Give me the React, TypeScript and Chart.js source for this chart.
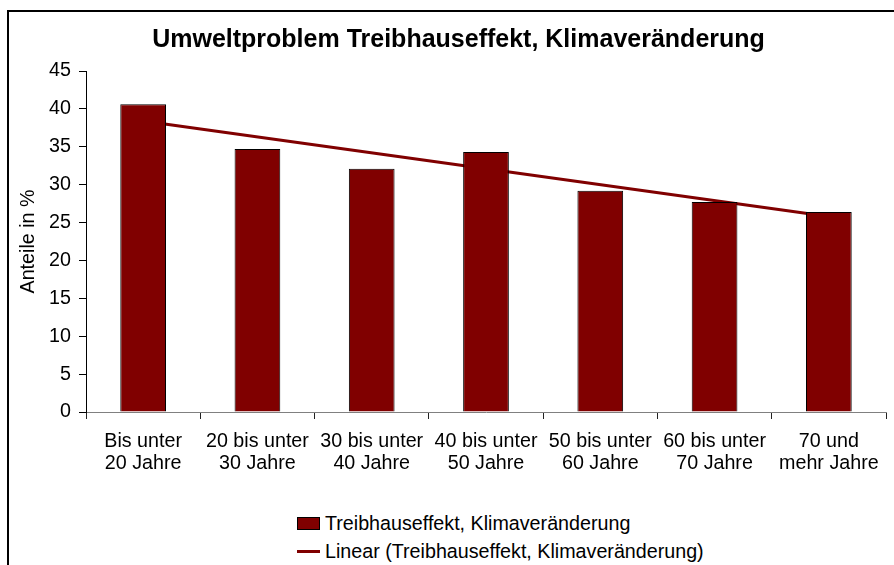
import React, { useEffect, useRef } from "react";
import { Chart, registerables } from "chart.js";

Chart.register(...registerables);

const categories: string[][] = [
  ["Bis unter", "20 Jahre"],
  ["20 bis unter", "30 Jahre"],
  ["30 bis unter", "40 Jahre"],
  ["40 bis unter", "50 Jahre"],
  ["50 bis unter", "60 Jahre"],
  ["60 bis unter", "70 Jahre"],
  ["70 und", "mehr Jahre"],
];
const values: number[] = [40.6, 34.7, 32.1, 34.3, 29.2, 27.7, 26.4];
// linear trend line read at the first and last category
const trendValues: (number | null)[] = [38.4, null, null, null, null, null, 25.8];

const seriesLabel = "Treibhauseffekt, Klimaveränderung";
const trendLabel = "Linear (Treibhauseffekt, Klimaveränderung)";
const chartTitle = "Umweltproblem Treibhauseffekt, Klimaveränderung";
const yTitle = "Anteile in %";
const yMin = 0;
const yMax = 45;
const yStep = 5;

const RED = "#800000";
const FONT = "'Liberation Sans', Arial, sans-serif";
const FS = 19.7;

export default function App() {
  const ref = useRef<HTMLCanvasElement | null>(null);

  useEffect(() => {
    if (!ref.current) return;
    const chart = new Chart(ref.current, {
      type: "bar",
      data: {
        labels: categories,
        datasets: [
          {
            type: "bar",
            label: seriesLabel,
            data: values,
            backgroundColor: RED,
            borderColor: "#000000",
            borderWidth: 1,
            barPercentage: 0.4,
            categoryPercentage: 1,
            order: 0,
          },
          {
            type: "line",
            label: trendLabel,
            data: trendValues,
            borderColor: RED,
            backgroundColor: RED,
            borderWidth: 3,
            pointRadius: 0,
            spanGaps: true,
            fill: false,
            order: 1,
          } as any,
        ],
      },
      options: {
        animation: false,
        responsive: false,
        devicePixelRatio: 1,
        layout: { padding: { left: 22, right: 22, top: 0, bottom: 0 } },
        plugins: {
          legend: { display: false },
          tooltip: { enabled: false },
          title: {
            display: true,
            text: chartTitle,
            color: "#000",
            font: { family: FONT, size: 25, weight: "bold", lineHeight: 1.2 },
            padding: { top: 13, bottom: 16 },
          },
        },
        scales: {
          x: {
            offset: true,
            afterFit: (s: any) => {
              s.height = 80;
            },
            grid: {
              display: true,
              drawOnChartArea: false,
              offset: true,
              tickLength: 7,
              color: "#222",
            },
            border: { display: true, color: "#808080", width: 1 },
            ticks: {
              color: "#000",
              padding: 12,
              maxRotation: 0,
              autoSkip: false,
              font: { family: FONT, size: FS, lineHeight: 1.1 },
            },
          },
          y: {
            min: yMin,
            max: yMax,
            afterFit: (s: any) => {
              s.width = 55;
            },
            grid: {
              display: true,
              drawOnChartArea: false,
              tickLength: 7,
              color: "#000",
            },
            border: { display: true, color: "#000", width: 1 },
            ticks: {
              stepSize: yStep,
              color: "#000",
              padding: 8,
              font: { family: FONT, size: FS },
            },
            title: {
              display: true,
              text: yTitle,
              color: "#000",
              padding: { top: -14, bottom: 0 },
              font: { family: FONT, size: FS },
            },
          },
        },
      },
    });
    return () => chart.destroy();
  }, []);

  const rowStyle: React.CSSProperties = {
    position: "absolute",
    left: 288,
    height: 22,
    display: "flex",
    alignItems: "center",
    fontFamily: FONT,
    fontSize: FS,
    lineHeight: "22px",
    color: "#000",
    whiteSpace: "nowrap",
  };

  return (
    <div
      style={{
        position: "fixed",
        left: 7,
        top: 10,
        width: 910,
        height: 600,
        border: "2px solid #000",
        background: "#fff",
      }}
    >
      <canvas
        ref={ref}
        width={899}
        height={480}
        style={{ position: "absolute", left: 0, top: 0, width: 899, height: 480 }}
      />
      <div style={{ ...rowStyle, top: 500 }}>
        <span
          style={{
            display: "inline-block",
            width: 21,
            height: 11,
            background: RED,
            border: "1px solid #000",
            marginRight: 5,
          }}
        />
        <span>{seriesLabel}</span>
      </div>
      <div style={{ ...rowStyle, top: 528 }}>
        <span
          style={{
            display: "inline-block",
            width: 23,
            height: 3,
            background: RED,
            marginRight: 5,
          }}
        />
        <span>{trendLabel}</span>
      </div>
    </div>
  );
}
